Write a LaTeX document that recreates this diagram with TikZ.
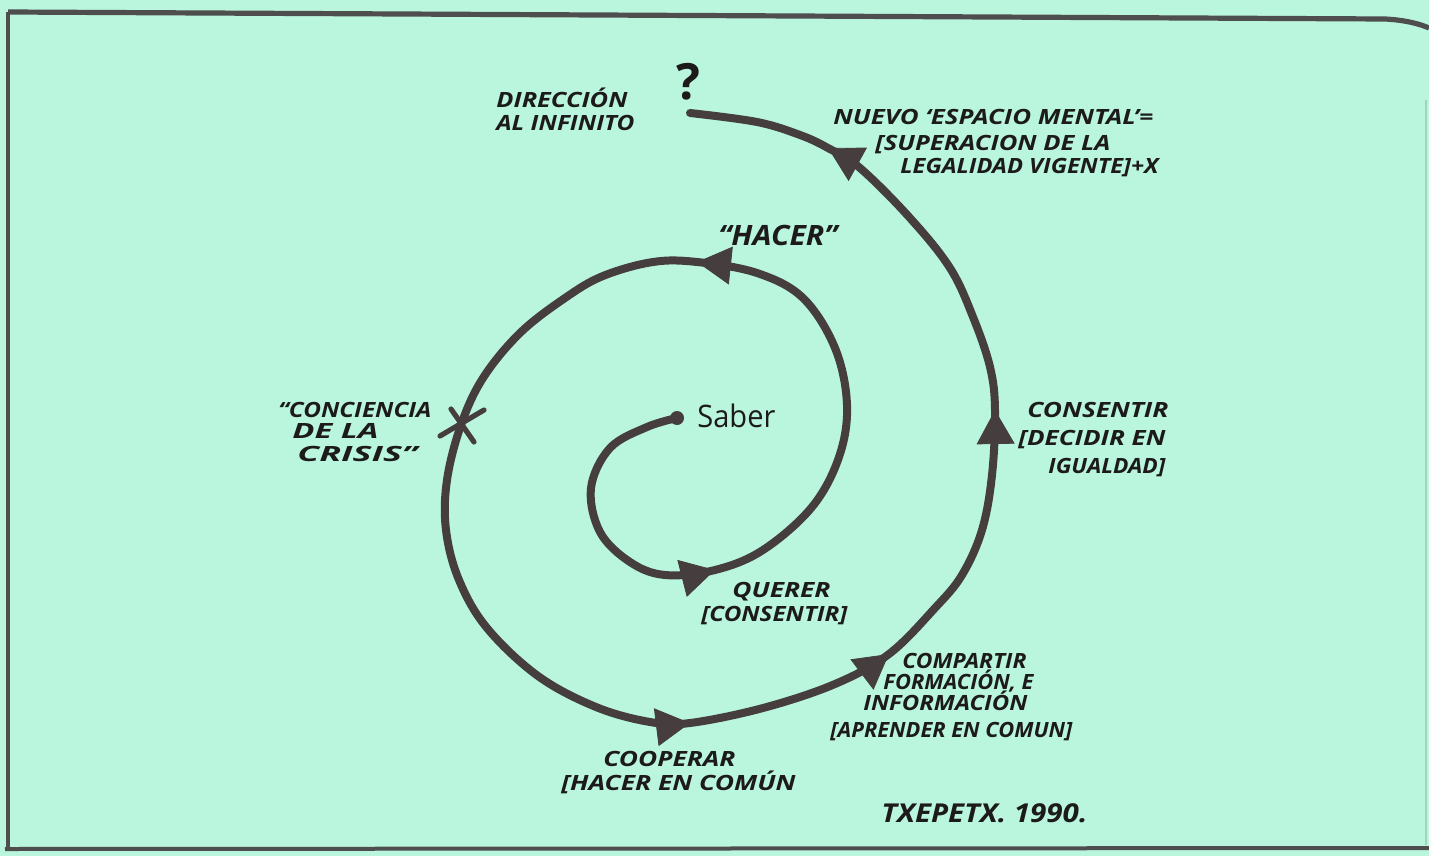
\documentclass[tikz,border=0pt]{standalone}
\usepackage{fontspec}
\usepackage{graphicx}
\setmainfont{Open Sans}
\usetikzlibrary{arrows.meta,decorations.markings,calc}
\definecolor{bg}{RGB}{186,246,222}
\definecolor{ink}{RGB}{70,62,62}
\definecolor{txt}{RGB}{28,26,26}
\definecolor{framec}{RGB}{78,78,78}
\definecolor{edgec}{RGB}{160,212,190}
\newcommand\hw[2]{\resizebox{#1pt}{\height}{#2}}
\newcommand\sparrow[3]{\path[decoration={markings, mark=at position 1 with {\arrow{Triangle[length=17pt,width=19pt,color=ink,fill=ink]}}}, decorate] ($(#2)+0.5*(#1)-0.5*(#3)$) -- (#2);}
\begin{document}
\begin{tikzpicture}[x=0.5pt,y=-0.5pt,
  lab/.style={font=\fontsize{10.5}{12}\selectfont\bfseries\itshape, text=txt, inner sep=0pt, anchor=base west},
  spiral/.style={draw=ink, line width=4pt, line cap=round, line join=round},
  framel/.style={draw=framec, line cap=butt}]
\useasboundingbox (0,0) rectangle (1429,856);
\fill[bg] (0,0) rectangle (1429,856);
% frame
\coordinate (f1) at (8,12);
\coordinate (f2) at (1385,19);
\coordinate (f3) at (1429,28);
\coordinate (f4) at (8,851);
\coordinate (f5) at (5,849);
\coordinate (f6) at (1429,848);
\draw[framel, line width=2.6pt] (f1) -- (f2) .. controls (1405,20) and (1420,24) .. (f3);
\draw[framel, line width=1.6pt] (f1) -- (f4);
\draw[framel, line width=2pt] (f5) -- (f6);
\coordinate (e1) at (1426,100);
\coordinate (e2) at (1426,845);
\draw[edgec, line width=0.8pt] (e1) -- (e2);
% spiral points
\coordinate (s0) at (677,418);
\coordinate (s1) at (647,427);
\coordinate (s2) at (610,448);
\coordinate (s3) at (591,488);
\coordinate (s4) at (600,532);
\coordinate (s5) at (630,562);
\coordinate (s6) at (665,575);
\coordinate (tA) at (715,570);
\coordinate (s8) at (763,550);
\coordinate (s9) at (812,507);
\coordinate (s10) at (839,457);
\coordinate (s11) at (847,405);
\coordinate (s12) at (835,348);
\coordinate (s13) at (803,298);
\coordinate (s14) at (757,273);
\coordinate (tB) at (697,262);
\coordinate (s16) at (653,262);
\coordinate (s17) at (603,276);
\coordinate (s18) at (565,298);
\coordinate (s19) at (520,333);
\coordinate (s20) at (483,378);
\coordinate (xX) at (461,425);
\coordinate (s22) at (447,480);
\coordinate (s23) at (446,530);
\coordinate (s24) at (459,580);
\coordinate (s25) at (487,628);
\coordinate (s26) at (538,676);
\coordinate (s27) at (596,707);
\coordinate (s28) at (650,722);
\coordinate (tC) at (690,723);
\coordinate (s30) at (763,708);
\coordinate (s31) at (835,684);
\coordinate (tD) at (889,654);
\coordinate (s33) at (935,608);
\coordinate (s34) at (962,575);
\coordinate (s35) at (982,530);
\coordinate (s36) at (992,475);
\coordinate (tE) at (995,410);
\coordinate (s38) at (990,367);
\coordinate (s39) at (973,317);
\coordinate (s40) at (950,268);
\coordinate (s41) at (910,218);
\coordinate (s42) at (860,168);
\coordinate (tF) at (828,148);
\coordinate (s44) at (800,135);
\coordinate (s45) at (757,122);
\coordinate (s46) at (690,113);
\draw[spiral] plot[smooth, tension=0.6] coordinates {(s0) (s1) (s2) (s3) (s4) (s5) (s6) (tA) (s8) (s9) (s10) (s11) (s12) (s13) (s14) (tB) (s16) (s17) (s18) (s19) (s20) (xX) (s22) (s23) (s24) (s25) (s26) (s27) (s28) (tC) (s30) (s31) (tD) (s33) (s34) (s35) (s36) (tE) (s38) (s39) (s40) (s41) (s42) (tF) (s44) (s45) (s46)};
\fill[ink] (s0) circle[radius=7];
% arrowheads
\sparrow{s6}{tA}{s8}
\sparrow{s14}{tB}{s16}
\sparrow{s28}{tC}{s30}
\sparrow{s31}{tD}{s33}
\sparrow{s36}{tE}{s38}
\sparrow{s42}{tF}{s44}
% X mark
\draw[ink, line width=2.6pt, line cap=round] ([shift={(-21,11)}]xX) -- ([shift={(23,-15)}]xX);
\draw[ink, line width=2.6pt, line cap=round] ([shift={(-10,-16)}]xX) -- ([shift={(13,17)}]xX);
% labels
\node[lab] (dir1) at (496,108) {\hw{65.5}{DIRECCIÓN}};
\node[lab] (dir2) at (496,131) {\hw{69}{AL INFINITO}};
\node[font=\fontsize{25}{27}\selectfont\bfseries, text=txt, inner sep=0pt] (qm) at (688,82) {?};
\node[lab] (nue1) at (833,125) {\hw{160}{NUEVO ‘ESPACIO MENTAL’=}};
\node[lab] (nue2) at (875,151) {\hw{117.5}{[SUPERACION DE LA}};
\node[lab] (nue3) at (900,174) {\hw{129}{LEGALIDAD VIGENTE]+X}};
\node[lab, font=\fontsize{14}{16}\selectfont\bfseries\itshape] (hacer) at (718,245) {\hw{59.5}{“HACER”}};
\node[lab] (cc1) at (278,417) {\hw{76.5}{“CONCIENCIA}};
\node[lab] (cc2) at (292,438) {\hw{43}{DE LA}};
\node[lab] (cc3) at (297,461) {\hw{60}{CRISIS”}};
\node[lab, font=\fontsize{15.5}{17}\selectfont] (saber) at (697,427) {\hw{39}{Saber}};
\node[lab] (q1) at (732,597) {\hw{49}{QUERER}};
\node[lab] (q2) at (701,621) {\hw{73}{[CONSENTIR]}};
\node[lab] (c1) at (1027,417) {\hw{70.5}{CONSENTIR}};
\node[lab] (c2) at (1018,445) {\hw{73.5}{[DECIDIR EN}};
\node[lab] (c3) at (1048,473) {\hw{58.5}{IGUALDAD]}};
\node[lab] (p1) at (902,668) {\hw{62}{COMPARTIR}};
\node[lab] (p2) at (883,689) {\hw{75}{FORMACIÓN, E}};
\node[lab] (p3) at (863,710) {\hw{82}{INFORMACIÓN}};
\node[lab] (p4) at (830,737) {\hw{121}{[APRENDER EN COMUN]}};
\node[lab] (o1) at (603,766) {\hw{66}{COOPERAR}};
\node[lab] (o2) at (561,790) {\hw{117}{[HACER EN COMÚN}};
\node[lab, font=\fontsize{13}{15}\selectfont\bfseries\itshape] (sig) at (881,822) {\hw{103}{TXEPETX. 1990.}};
\end{tikzpicture}
\end{document}
